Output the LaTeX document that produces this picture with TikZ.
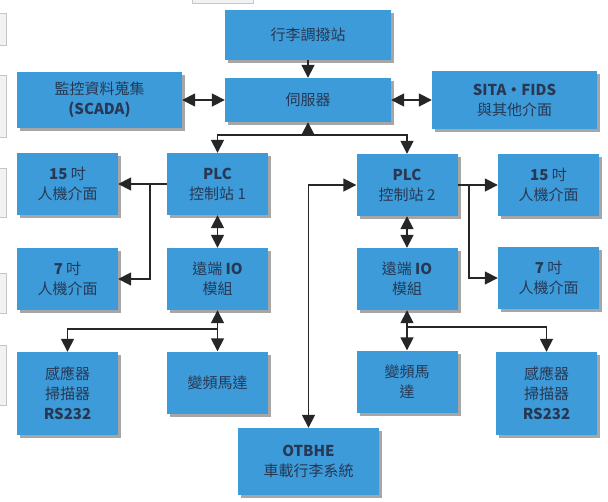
\documentclass[tikz,border=0pt]{standalone}
\usepackage{fontspec}
\setmainfont{Noto Sans CJK TC}
\usetikzlibrary{arrows.meta,shadows}
\definecolor{boxblue}{RGB}{60,155,216}
\definecolor{txtc}{RGB}{40,56,84}
\begin{document}
\begin{tikzpicture}[x=1pt, y=-1pt,
	blk/.style={fill=boxblue, text=txtc, align=center, inner sep=0pt,
		minimum width=101pt, minimum height=62pt,
		drop shadow={shadow xshift=3pt, shadow yshift=-3pt, opacity=0.35, fill=black},
		font=\fontsize{15}{20}\selectfont},
	lnk/.style={line width=1.7pt, black!85},
	>={Triangle[length=13pt, width=13pt]}]
	\useasboundingbox[fill=white] (0,0) rectangle (608,501);
	% leftovers of the page behind
	\foreach \a/\b in {13/45, 75/137, 168/217, 273/313, 345/405}
		\filldraw[fill=gray!10, draw=gray!45] (-2,\a) rectangle (6,\b);
	\filldraw[fill=gray!10, draw=gray!45] (192,-3) rectangle (253,3);

	\node[blk, minimum width=166pt, minimum height=50pt] (disp) at (308,35) {行李調撥站};
	\node[blk, minimum width=166pt, minimum height=44pt] (srv) at (308,100) {伺服器};
	\node[blk, minimum width=165pt, minimum height=56pt] (scada) at (99.5,100) {監控資料蒐集\\\textbf{(SCADA)}};
	\node[blk, minimum width=165pt, minimum height=58pt] (sita) at (514.5,100) {\textbf{SITA・FIDS}\\與其他介面};

	\node[blk] (plc1) at (217.5,184) {\textbf{PLC}\\控制站 1};
	\node[blk] (h15a) at (67.5,184) {\textbf{15} 吋\\人機介面};
	\node[blk] (plc2) at (407,185) {\textbf{PLC}\\控制站 2};
	\node[blk] (h15b) at (548.5,185) {\textbf{15} 吋\\人機介面};

	\node[blk] (h7a) at (67.5,279) {\textbf{7} 吋\\人機介面};
	\node[blk] (io1) at (217.5,279) {遠端 \textbf{IO}\\模組};
	\node[blk] (io2) at (407,279) {遠端 \textbf{IO}\\模組};
	\node[blk] (h7b) at (548.5,278) {\textbf{7} 吋\\人機介面};

	\node[blk, minimum height=83pt] (sen1) at (67.5,393.5) {感應器\\掃描器\\\textbf{RS232}};
	\node[blk] (mot1) at (217.5,382.5) {變頻馬達};
	\node[blk] (mot2) at (407,381.5) {變頻馬\\達};
	\node[blk, minimum height=83pt] (sen2) at (546.5,393.5) {感應器\\掃描器\\\textbf{RS232}};
	\node[blk, minimum width=141pt, minimum height=67pt] (otb) at (308.5,461.5) {\textbf{OTBHE}\\車載行李系統};

	\coordinate (s0) at (308,135);
	\coordinate (b1) at (150,184);
	\coordinate (b2) at (217.5,329);
	\coordinate (b3) at (469,185);
	\coordinate (b4) at (407,327);

	\draw[lnk,->] (disp) -- (srv);
	\draw[lnk,<->] (scada) -- (srv);
	\draw[lnk,<->] (srv) -- (sita);
	\draw[lnk,->] (s0) -- (srv);
	\draw[lnk,->] (s0) -| (plc1);
	\draw[lnk,->] (s0) -| (plc2);

	\draw[lnk,->] (plc1) -- (h15a);
	\draw[lnk,->] (b1) |- (h7a);
	\draw[lnk,<->] (plc1) -- (io1);
	\draw[lnk,<->] (io1) -- (mot1);
	\draw[lnk,->] (b2) -| (sen1);

	\draw[lnk,<->] (plc2) -| (otb);
	\draw[lnk,->] (plc2) -- (h15b);
	\draw[lnk,->] (b3) |- (h7b);
	\draw[lnk,<->] (plc2) -- (io2);
	\draw[lnk,<->] (io2) -- (mot2);
	\draw[lnk,->] (b4) -| (sen2);
\end{tikzpicture}
\end{document}
